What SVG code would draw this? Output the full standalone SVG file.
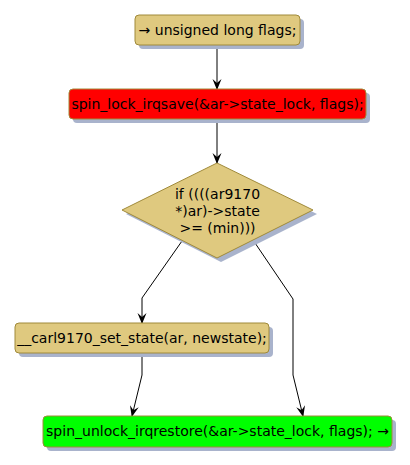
<svg xmlns="http://www.w3.org/2000/svg" width="410" height="465" viewBox="0 0 410 465">
<style>
.box{stroke:#a08a3a;stroke-width:1}
.tan{fill:#dfc97f}
.shadow{fill:#a9b3cc}
.t{font-family:"DejaVu Sans",Verdana,sans-serif;font-size:14px;fill:#000;text-anchor:middle}
.c{fill:none;stroke:#000;stroke-width:1}
</style>
<defs>
<marker id="ah" markerWidth="12" markerHeight="12" refX="10" refY="5" orient="auto" markerUnits="userSpaceOnUse">
<path d="M0,0.5 L11,5 L0,9.5 L4,5 z" fill="#000"/>
</marker>
</defs>
<g id="connectors">
<path class="c" d="M217,45 L217,89" marker-end="url(#ah)"/>
<path class="c" d="M217,119 L217,163" marker-end="url(#ah)"/>
<path class="c" d="M182,241 L142,298 L142,323" marker-end="url(#ah)"/>
<path class="c" d="M253,240 L293,299 L293,375 L303,416" marker-end="url(#ah)"/>
<path class="c" d="M142,353 L142,375 L132,416" marker-end="url(#ah)"/>
</g>
<g id="n1">
<rect class="shadow" x="139" y="19" width="165" height="30" rx="4"/>
<rect class="box tan" x="135" y="15" width="165" height="30" rx="4"/>
<text class="t" x="217.5" y="35">→ unsigned long flags;</text>
</g>
<g id="n2">
<rect class="shadow" x="73" y="93" width="297" height="30" rx="4"/>
<rect class="box" fill="#ff0000" x="69" y="89" width="297" height="30" rx="4"/>
<text class="t" x="217.5" y="109">spin_lock_irqsave(&amp;ar-&gt;state_lock, flags);</text>
</g>
<g id="n3">
<polygon class="shadow" points="221,167 317,214 221,262 126,214"/>
<polygon class="box tan" points="217,163 313,210 217,258 122,210"/>
<text class="t" x="217.5" y="199">if ((((ar9170</text>
<text class="t" x="217.5" y="216">*)ar)-&gt;state</text>
<text class="t" x="217.5" y="233">&gt;= (min)))</text>
</g>
<g id="n4">
<rect class="shadow" x="19" y="327" width="254" height="30" rx="4"/>
<rect class="box tan" x="15" y="323" width="254" height="30" rx="4"/>
<text class="t" x="142" y="343">__carl9170_set_state(ar, newstate);</text>
</g>
<g id="n5">
<rect class="shadow" x="47" y="420" width="349" height="31" rx="4"/>
<rect class="box" fill="#00ff00" x="43" y="416" width="349" height="31" rx="4"/>
<text class="t" x="217.5" y="436">spin_unlock_irqrestore(&amp;ar-&gt;state_lock, flags); →</text>
</g>
</svg>
